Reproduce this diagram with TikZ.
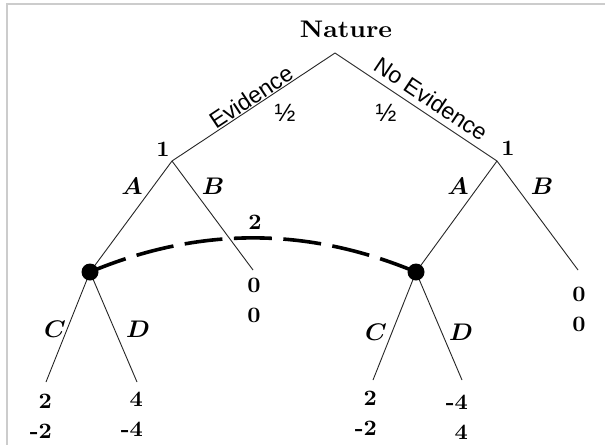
\documentclass[tikz,border=0pt]{standalone}
\usepackage{fontspec}
\usepackage{bm}
\usepackage{graphicx}
\newfontfamily\arialf{Liberation Sans}
\newcommand{\hs}[1]{\scalebox{2.3}[2.2]{#1}}
\newcommand{\ms}[1]{\scalebox{2.45}[2.4]{$\bm{#1}$}}
\begin{document}
\begin{tikzpicture}[x=1pt,y=-1pt,
  edge/.style={draw=black!85, line width=0.9pt},
  info/.style={draw=black, line width=3.6pt, dash pattern=on 38pt off 11.5pt},
  dotnode/.style={circle, fill=black, inner sep=0pt, minimum size=17pt},
  lbl/.style={font=\fontsize{10}{30}\selectfont\bfseries, inner sep=0pt},
  act/.style={font=\fontsize{10}{12}\selectfont, inner sep=0pt},
  sans/.style={font=\arialf\fontsize{23}{27}\selectfont, inner sep=0pt},
  pay/.style={lbl, align=right, anchor=east}
]
\useasboundingbox (0,0) rectangle (605,445);
\fill[white] (0,0) rectangle (605,445);
\draw[black!20, line width=1.3pt] (605,4) -- (7,4) -- (7,445);

% tree vertices
\coordinate (root) at (335,53);
\coordinate (l1) at (172,161);
\coordinate (r1) at (497,161);
\coordinate (ld) at (90,272);
\coordinate (lb) at (253,270);
\coordinate (rd) at (416,272);
\coordinate (rb) at (578,270);
\coordinate (lc) at (46,382);
\coordinate (ldd) at (137,382);
\coordinate (rc) at (373,380);
\coordinate (rdd) at (462,380);

% edges
\draw[edge] (root) -- (l1);
\draw[edge] (root) -- (r1);
\draw[edge] (l1) -- (ld);
\draw[edge] (l1) -- (lb);
\draw[edge] (r1) -- (rd);
\draw[edge] (r1) -- (rb);
\draw[edge] (ld) -- (lc);
\draw[edge] (ld) -- (ldd);
\draw[edge] (rd) -- (rc);
\draw[edge] (rd) -- (rdd);

% information set
\draw[info] (ld) .. controls (199,226.5) and (307,226.5) .. (rd);
\node[dotnode] (ldot) at (ld) {};
\node[dotnode] (rdot) at (rd) {};

% labels
\node[lbl] (nature) at (346,29) {\scalebox{2.6}[2.4]{Nature}};
\node[sans, rotate=33.5] (ev) at (251,97) {Evidence};
\node[sans, rotate=-33.7] (nev) at (431,99) {No Evidence};
\node[sans, font=\arialf\fontsize{25}{28}\selectfont] (hl) at (285,113) {½};
\node[sans, font=\arialf\fontsize{25}{28}\selectfont] (hr) at (386,113) {½};
\node[lbl] (one1) at (163,149) {\hs{1}};
\node[lbl] (one2) at (508,148) {\hs{1}};
\node[act] (al) at (132,186) {\ms{A}};
\node[act] (bl) at (213,186) {\ms{B}};
\node[act] (ar) at (458,186) {\ms{A}};
\node[act] (br) at (542,186) {\ms{B}};
\node[lbl] (two) at (255,222) {\hs{2}};
\node[act] (cl) at (55,329) {\ms{C}};
\node[act] (dl) at (138,329) {\ms{D}};
\node[act] (cr) at (376,332) {\ms{C}};
\node[act] (dr) at (461,332) {\ms{D}};

% payoffs
\node[lbl, align=center] (p0l) at (254,300) {\hs{0}\\\hs{0}};
\node[lbl, align=center] (p0r) at (579,309) {\hs{0}\\\hs{0}};
\node[pay] (p1) at (52,416) {\hs{2}\\\hs{-2}};
\node[pay] (p2) at (143,414) {\hs{4}\\\hs{-4}};
\node[pay] (p3) at (377,413) {\hs{2}\\\hs{-2}};
\node[pay] (p4) at (468,417) {\hs{-4}\\\hs{4}};
\end{tikzpicture}
\end{document}
